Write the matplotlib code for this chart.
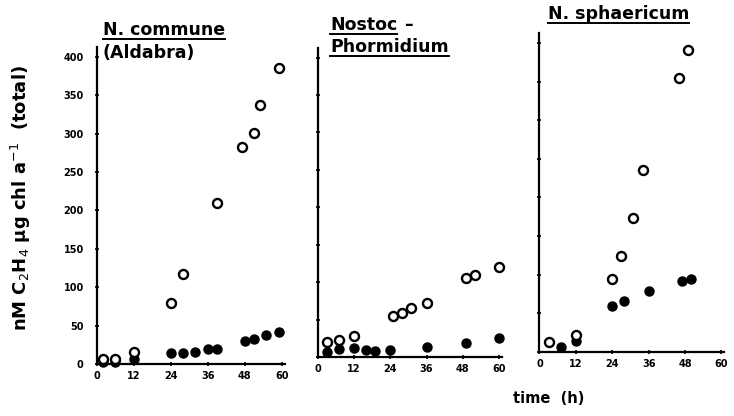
import numpy as np
import matplotlib
matplotlib.use('Agg')
import matplotlib.pyplot as plt
from matplotlib.lines import Line2D

# N. commune (Aldabra)
p1_open_t = [2, 6, 12, 24, 28, 39, 47, 51, 53, 59]
p1_open_v = [7, 6, 16, 80, 117, 210, 283, 301, 338, 386]
p1_fill_t = [2, 6, 12, 24, 28, 32, 36, 39, 48, 51, 55, 59]
p1_fill_v = [3, 2, 6, 14, 14, 16, 20, 20, 30, 33, 38, 42]

# Nostoc - Phormidium
p2_open_t = [3, 7, 12, 25, 28, 31, 36, 49, 52, 60]
p2_open_v = [20, 22, 28, 55, 59, 65, 72, 105, 109, 120]
p2_fill_t = [3, 7, 12, 16, 19, 24, 36, 49, 60]
p2_fill_v = [7, 10, 12, 9, 8, 9, 13, 18, 25]

# N. sphaericum
p3_open_t = [3, 12, 24, 27, 31, 34, 46, 49]
p3_open_v = [13, 22, 95, 124, 173, 235, 355, 391]
p3_fill_t = [7, 12, 24, 28, 36, 47, 50]
p3_fill_v = [6, 14, 59, 66, 79, 92, 94]

x_ticks = [0, 12, 24, 36, 48, 60]
y_ticks = [0, 50, 100, 150, 200, 250, 300, 350, 400]

W, H = 734, 416
fig = plt.figure(figsize=(W / 100, H / 100), dpi=100)
plt.rcParams['font.family'] = 'DejaVu Sans'

rects = [[0.132, 0.125, 0.256, 0.762],
         [0.433, 0.142, 0.251, 0.743],
         [0.735, 0.154, 0.252, 0.767]]
panels = [(p1_open_t, p1_open_v, p1_fill_t, p1_fill_v),
          (p2_open_t, p2_open_v, p2_fill_t, p2_fill_v),
          (p3_open_t, p3_open_v, p3_fill_t, p3_fill_v)]

axes = []
for i, (r, d) in enumerate(zip(rects, panels)):
    ax = fig.add_axes(r)
    ot, ov, ft, fv = d
    ax.plot(ft, fv, 'o', color='black', ms=6.5, clip_on=False, zorder=3)
    ax.plot(ot, ov, 'o', mfc='white', mec='black', mew=1.7, ms=6.5,
            clip_on=False, zorder=4)
    ax.set_xlim(0, 61)
    ax.set_ylim(0, 413)
    ax.spines['top'].set_visible(False)
    ax.spines['right'].set_visible(False)
    ax.spines['left'].set_linewidth(1.6)
    ax.spines['bottom'].set_linewidth(1.6)
    ax.set_xticks(x_ticks)
    ax.set_xticklabels([str(t) for t in x_ticks], fontsize=7, fontweight='bold')
    ax.set_yticks(y_ticks)
    if i == 0:
        ax.set_yticklabels([str(t) for t in y_ticks], fontsize=7, fontweight='bold')
        ax.tick_params(axis='y', pad=8)
    else:
        ax.set_yticklabels([])
    ax.tick_params(direction='inout', length=3, width=1.2)
    ax.patch.set_alpha(0)
    axes.append(ax)

tfont = dict(fontsize=12.5, fontweight='bold', va='baseline')

def ftext(x_px, y_px, s):
    return fig.text(x_px / W, 1 - y_px / H, s, **tfont)

# titles (positions in pixels from top-left)
t1 = ftext(103, 35, 'N. commune')
ftext(103, 58, '(Aldabra)')
t2 = ftext(330, 30, 'Nostoc')
fig.text(t2.get_position()[0] + 0.101, 1 - 30 / H, '\u2013', **tfont)
t3 = ftext(330, 52, 'Phormidium')
t4 = ftext(548, 19, 'N. sphaericum')

fig.canvas.draw()
r = fig.canvas.get_renderer()
for t, y_px in [(t1, 39), (t2, 34), (t3, 56), (t4, 23)]:
    bb = t.get_window_extent(renderer=r)
    fig.add_artist(Line2D([bb.x0 / W, bb.x1 / W], [1 - y_px / H, 1 - y_px / H],
                          transform=fig.transFigure, color='black', lw=1.4))

fig.text(0.029, 0.524, 'nM C$_2$H$_4$ \u03bcg chl a$^{-1}$  (total)',
         rotation=90, ha='center', va='center', fontsize=13, fontweight='bold')
fig.text(0.747, 0.043, 'time  (h)', ha='center', va='center',
         fontsize=10.5, fontweight='bold')

fig.savefig('out.png', dpi=100)
